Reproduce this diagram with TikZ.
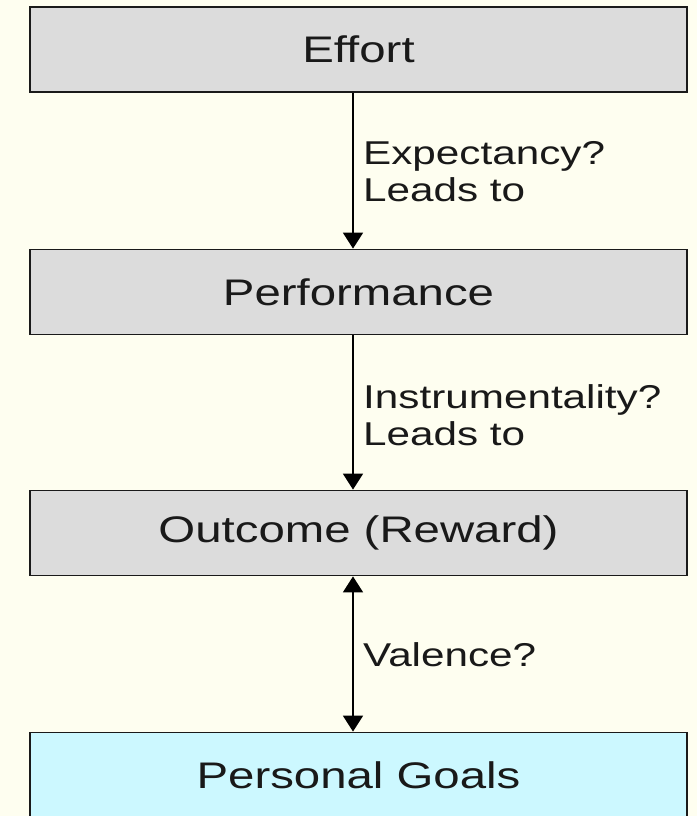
\documentclass[tikz,border=0pt]{standalone}
\usepackage{fontspec}
\setmainfont{Liberation Sans}[FakeStretch=1.28]
\usetikzlibrary{arrows.meta}
\definecolor{bgcol}{HTML}{FEFEF0}
\definecolor{boxgray}{HTML}{DCDCDC}
\definecolor{goalcyan}{HTML}{CCF8FF}
\definecolor{edgecol}{HTML}{1A1A1A}
\tikzset{
  stagebox/.style={draw=edgecol, line width=1.8pt, fill=boxgray, minimum width=657pt, minimum height=85pt, inner sep=0pt, font=\fontsize{37}{42}\selectfont, text=black!90},
  goalbox/.style={stagebox, fill=goalcyan},
  lbl/.style={anchor=west, align=left, inner sep=0pt, font=\fontsize{33}{37}\selectfont, text=black!90},
  tip/.style={Triangle[width=20pt,length=16pt]},
  conn/.style={line width=1.8pt, draw=black, -{Triangle[width=20pt,length=16pt]}},
  conn2/.style={line width=1.8pt, draw=black, {Triangle[width=20pt,length=16pt]}-{Triangle[width=20pt,length=16pt]}}
}
\begin{document}
\begin{tikzpicture}[x=1pt,y=-1pt]
\fill[bgcol] (0,0) rectangle (697,816);
\useasboundingbox (0,0) rectangle (697,816);
\node[stagebox] (effort) at (358.5,49.5) {Effort};
\node[stagebox] (perf) at (358.5,292) {Performance};
\node[stagebox] (outc) at (358.5,533) {Outcome (Reward)};
\node[goalbox] (goals) at (358.5,775) {Personal Goals};
\draw[conn] (effort.south -| 353,0) -- (perf.north -| 353,0);
\draw[conn] (perf.south -| 353,0) -- (outc.north -| 353,0);
\draw[conn2] (outc.south -| 353,0) -- (goals.north -| 353,0);
\node[lbl] (l1) at (363,172) {Expectancy?\\Leads to};
\node[lbl] (l2) at (363,415) {Instrumentality?\\Leads to};
\node[lbl] (l3) at (363,655) {Valence?};
\end{tikzpicture}
\end{document}
